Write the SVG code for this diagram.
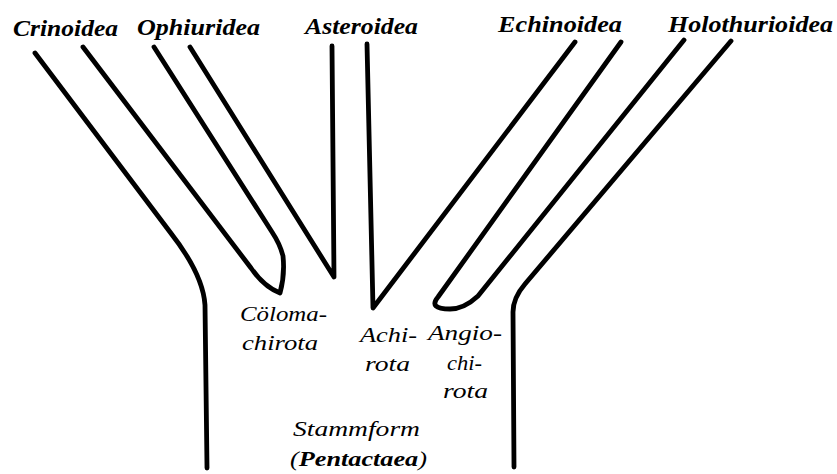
<svg xmlns="http://www.w3.org/2000/svg" width="837" height="474" viewBox="0 0 837 474">
<style>
.ln{fill:none;stroke:#000;stroke-width:4.8;stroke-linecap:round;stroke-linejoin:round}
.top{font-family:"Liberation Serif","Times New Roman",serif;font-style:italic;font-weight:bold;font-size:23px;fill:#000}
.lbl{font-family:"Liberation Serif","Times New Roman",serif;font-style:italic;font-size:21px;fill:#000}
</style>
<rect width="837" height="474" fill="#fff"/>
<g id="connectors">
<path class="ln" d="M35,53 L170,232 Q203,274 205,305 L207,468"/>
<path class="ln" d="M83,47 L251,268 Q264,287 280,293 Q285,275 283,256 Q280,244 272,232 L154,47"/>
<path class="ln" d="M190,47 L334,277 L332,46"/>
<path class="ln" d="M367,44 L373,308 L575,42"/>
<path class="ln" d="M621,42 L438,297 Q428,309 450,309 Q464,309 478,296 L684,40"/>
<path class="ln" d="M731,41 L525,284 Q513,298 513,312 L514,467"/>
</g>
<g id="crinoidea"><text class="top" x="13" y="36" textLength="105" lengthAdjust="spacingAndGlyphs">Crinoidea</text></g>
<g id="ophiuridea"><text class="top" x="137" y="35" textLength="123" lengthAdjust="spacingAndGlyphs">Ophiuridea</text></g>
<g id="asteroidea"><text class="top" x="305" y="34" textLength="113" lengthAdjust="spacingAndGlyphs">Asteroidea</text></g>
<g id="echinoidea"><text class="top" x="498" y="32" textLength="124" lengthAdjust="spacingAndGlyphs" font-weight="normal">Echinoidea</text></g>
<g id="holothurioidea"><text class="top" x="668" y="32" textLength="165" lengthAdjust="spacingAndGlyphs">Holothurioidea</text></g>
<g id="coelomachirota">
<text class="lbl" x="240" y="321" textLength="87" lengthAdjust="spacingAndGlyphs">Cöloma-</text>
<text class="lbl" x="242" y="350" textLength="76" lengthAdjust="spacingAndGlyphs">chirota</text>
</g>
<g id="achirota">
<text class="lbl" x="360" y="342" textLength="57" lengthAdjust="spacingAndGlyphs">Achi-</text>
<text class="lbl" x="365" y="371" textLength="45" lengthAdjust="spacingAndGlyphs">rota</text>
</g>
<g id="angiochirota">
<text class="lbl" x="428" y="340" textLength="74" lengthAdjust="spacingAndGlyphs">Angio-</text>
<text class="lbl" x="447" y="370" textLength="35" lengthAdjust="spacingAndGlyphs">chi-</text>
<text class="lbl" x="443" y="398" textLength="45" lengthAdjust="spacingAndGlyphs">rota</text>
</g>
<g id="stammform">
<text class="lbl" x="293" y="436" textLength="127" lengthAdjust="spacingAndGlyphs">Stammform</text>
<text class="lbl" x="290" y="466" textLength="137" lengthAdjust="spacingAndGlyphs">(<tspan font-weight="bold">Pentactaea</tspan>)</text>
</g>
</svg>
